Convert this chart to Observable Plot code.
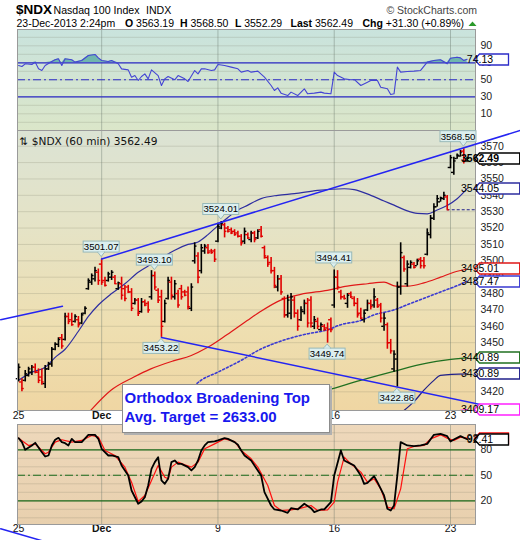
<!DOCTYPE html>
<html>
<head>
<meta charset="utf-8">
<script src="https://cdn.jsdelivr.net/npm/d3@7"></script>
<script src="https://cdn.jsdelivr.net/npm/@observablehq/plot@0.6"></script>
<style>
html,body{margin:0;padding:0;background:#fff;}
#chart{position:relative;width:520px;height:540px;overflow:hidden;font-family:"Liberation Sans",Arial,sans-serif;color:#111;}
.bg{position:absolute;left:17px;width:458px;}
#note{position:absolute;left:121.5px;top:383.5px;width:204px;height:44px;background:#fff;border:1px solid #8c8c8c;box-shadow:2px 2px 0 #b0b0b0;font:bold 15px "Liberation Sans",Arial,sans-serif;color:#1818ee;line-height:19px;padding:3px 0 0 2px;box-sizing:content-box;white-space:nowrap;}
</style>
</head>
<body>
<div id="chart"></div>
<script>
// ================= DATA =================
const dayTickIndex = [0, 25, 60, 95, 130];
const dayTickLabel = ["25", "Dec", "9", "16", "23"];
const weekGridIndex = [25, 60, 95, 130];

// 60-minute OHLC bars, 25-Nov-2013 .. 23-Dec-2013 2:24pm
const barOpen = [
3428,3426,3427,3430,3432,3435,3432,3429,3425,3434,
3437,3446,3449,3453,3452,3466,3464,3463,3464,3462,
3468,3483,3487,3489,3493,3498,3488,3488,3490,3490,
3483,3486,3483,3484,3481,3474,3476,3469,3475,3474,
3478,3491,3482,3478,3463,3477,3487,3478,3480,3483,
3481,3481,3471,3500,3503,3494,3506,3508,3506,3506,
3512,3520,3522,3520,3519,3518,3517,3515,3512,3516,
3513,3517,3514,3519,3508,3502,3499,3494,3484,3489,
3477,3467,3468,3476,3468,3464,3469,3474,3476,3460,
3463,3458,3460,3459,3464,3473,3490,3481,3478,3474,
3480,3477,3474,3468,3464,3470,3474,3473,3476,3473,
3460,3461,3450,3434,3440,3484,3502,3486,3496,3498,
3497,3501,3500,3504,3516,3526,3533,3536,3538,3539,
3557,3554,3562.5,3564,3567,3561];
const barHigh = [
3437,3428,3433,3435,3436,3437,3434,3434,3436,3438,
3447,3450,3453,3455,3468,3468,3468,3467,3466,3468,
3472,3489,3492,3496,3495,3501.07,3490,3493,3494,3491,
3487,3490,3485,3485,3483,3477,3477,3477,3476,3475,
3494,3493.10,3483,3482,3476,3490,3490,3488,3482,3485,
3482,3484,3486,3511,3505,3510,3510,3510,3507,3507,
3523,3524.01,3523,3521,3520,3519,3518,3516,3520,3517,
3518,3518,3519,3521,3509,3503,3502,3496,3491,3491,
3478,3479,3480,3478,3470,3472,3476,3477,3478,3466,
3465,3462,3461,3462,3465,3494.41,3494,3482,3479,3480,
3481,3478,3477,3471,3470,3476,3476,3483,3477,3474,
3468,3462,3452,3445,3487,3511,3503,3500,3500,3499,
3501,3502,3502,3519.5,3527.7,3534.8,3539.9,3538.9,3541.9,3539.9,
3564.3,3563.3,3565.3,3567.4,3568.50,3563.3];
const barLow = [
3426,3420,3426,3429,3430,3431,3425,3424,3422,3433,
3435,3445,3447,3446,3451,3461,3460,3462,3459,3461,
3467,3482,3485,3487,3485,3485,3484,3487,3488,3485.5,
3482,3476,3475,3480,3469,3473,3466,3468,3472,3468,
3476,3482,3474,3453.22,3462,3476,3476,3476,3471,3476,
3478,3470,3469,3498,3486,3492,3504,3504,3504,3499,
3511,3519,3514,3517,3516,3515,3514,3509,3510,3513,
3511,3511,3513,3514,3501,3496,3492,3483,3481,3479,
3465,3465,3464,3465,3457,3463,3467,3459,3459,3458,
3458,3457,3457,3449.74,3456,3471,3482,3476,3476,3471,
3477,3472,3465,3464,3462,3469,3470,3471,3471,3462,
3457,3446,3443,3432,3422.86,3479,3493,3484,3495,3495,
3497,3495,3495,3503,3513.4,3524.6,3532.8,3535.8,3536.8,3531.19,
3556.2,3552.29,3562,3563.3,3559.2,3560.2];
const barClose = [
3435,3422,3431,3434,3435,3432,3427,3426,3434,3437,
3446,3449,3452,3448,3466,3463,3461,3466,3461,3467,
3471,3488,3491,3494,3488,3487,3485,3492,3493,3486,
3486.5,3479,3477,3481,3471,3476,3468,3475,3473,3470,
3491,3484,3476,3460,3474,3488,3479,3486,3473,3478,
3479,3472,3484,3509,3490,3508,3509,3505,3505,3501,
3521,3523,3518,3518,3517,3516,3515,3511,3518,3514,
3517,3513,3518,3515,3503,3498,3494,3485,3489,3481,
3467,3476,3478,3468,3460,3470,3474,3462,3462,3464,
3460,3461,3458,3458,3458,3490,3484,3478,3477,3479,
3478,3474,3467,3465,3468,3474,3472,3478,3472,3465,
3465,3450,3445,3443,3484,3505,3495,3498,3499,3496,
3500,3497,3497,3517,3526,3533,3538,3538.5,3540,3531.19,
3563,3561,3564.5,3566.5,3561,3562.49];

const prevCloseIndex = 129;
const prevClose = 3531.19;

// overlays (index, value)
const ma1Idx = [0,4,8,11,14,18,21,24,28,32,36,40,44,47,51,54,57,60,63,66,69,73,78,83,90,98,101,106,110,113,117,120,123,126,129,132,135];
const ma1Val = [3427,3432,3435,3441,3446,3457,3466,3473,3480,3486,3493,3498,3503,3506.5,3510,3511.5,3516,3521.5,3526.5,3531,3534,3538,3540,3541,3543,3544,3543.5,3540,3536.5,3534,3530.5,3529,3528.7,3531,3533.8,3537.9,3544.05];
const ma2Idx = [21.7,27.7,34.7,39.8,46.8,51.8,56.8,62.8,68.8,72.8,78.9,84.9,92.9,98.9,105,110,113.5,117,122,127,131,135];
const ma2Val = [3408.6,3420.8,3429,3434,3439,3442,3447,3455,3463.5,3469,3476,3479.5,3482,3484.5,3486,3487,3484.5,3484.5,3486.5,3490,3493,3495.01];
const ma3Idx = [44,50,54.8,60,66.8,72.8,76.9,82.9,86.9,92.9,97,102.9,107,112.9,118,122.9,127,131,135];
const ma3Val = [3408.6,3418,3426.9,3432,3439,3446,3449.5,3453.4,3455.4,3457.8,3461,3463.5,3467,3470,3474,3477.8,3481,3484,3487.47];
const ma4Idx = [70,80,92.9,102.9,112.9,122.9,129,135];
const ma4Val = [3408.6,3414.5,3421,3427,3432.5,3437.5,3439.5,3440.89];
const ma5Idx = [116,119,122,125,127,135];
const ma5Val = [3408.6,3414,3421,3427,3430,3430.89];
const ma6Idx = [133,135];
const ma6Val = [3408.6,3409.17];

// drawn trendlines
const upperTrendIdx = [25, 151];
const upperTrendVal = [3501.07, 3579.6];
const lowerTrendIdx = [43, 151];
const lowerTrendVal = [3453.22, 3407.04];
const leftSegIdx = [-5.39, 13.2];
const leftSegVal = [3464, 3472.3];
const stochSegIdx = [-5.39, 7.5];
const stochSegVal = [-12.9, -27.5];

// price annotations
const calloutIdx = [25, 41, 61, 95, 134, 43, 93, 114];
const calloutVal = [3501.07, 3493.10, 3524.01, 3494.41, 3568.50, 3453.22, 3449.74, 3422.86];
const calloutSide = ["above","above","above","above","above","below","below","below"];

const priceTicks = [3420,3430,3440,3450,3460,3470,3480,3490,3500,3510,3520,3530,3540,3550,3560,3570];
const priceTagVal = [3562.49, 3544.05, 3495.01, 3487.47, 3440.89, 3430.89, 3409.17];
const priceTagSeries = ["price","ma1","ma2","ma3","ma4","ma5","ma6"];

// RSI(14)
const rsiIdx = [0,1,2,4,5,6,7,8,10,11,12,13,14,16,17,19,21,23,24,25,27,28,30,31,33,34,35,36,37,38,39,40,42,43,44,45,47,48,50,51,53,54,55,56,58,59,60,62,64,66,67,69,70,72,74,76,77,78,79,81,82,84,86,87,89,91,92,94,95,96,98,100,101,103,105,106,108,109,111,112,113,114,115,117,119,121,123,125,127,129,130,132,133,134,135];
const rsiVal = [66.8,65.7,68.8,68,70.8,62.9,61,66.8,71.5,73.5,74.7,66.8,74.7,73.5,70.8,72.7,78.6,79.8,75.8,72.7,71.5,72.7,68.8,62.9,61.7,53.1,55,49.2,53.9,57,51.1,61.7,55,43.3,51.1,53.9,50,55,51.1,48,60.9,57,62.9,62.9,61,61.7,68,66.8,64.9,62.9,59,61,59,60.2,53.1,43.3,37.4,40.5,34.3,31.5,35.5,31.5,39.4,33.5,34.3,35.5,34.3,33.5,59,55,51.1,50,50.4,43.3,47.2,49.2,49.2,41.3,39.4,32.7,33.5,64.9,59,59.8,60.2,61,70.8,72.7,73.5,68.8,75.4,76.6,75.8,72.7,74.13];
const rsiLabels = [90, 70, 50, 30, 10];
const rsiGrid = [0,10,20,30,40,50,60,70,80,90,100];
const rsiBands = [70, 30];
const rsiMid = [50];

// Slow stochastics
const kIdx = [0,1,2,4,5,7,8,9,10,11,12,13,14,15,16,17,19,21,23,24,25,27,28,30,31,33,34,36,37,38,39,40,41,42,43,44,45,46,47,48,49,51,52,53,54,55,56,57,59,60,62,63,65,66,67,68,70,71,73,74,76,77,79,81,82,84,86,88,89,91,92,94,95,97,98,100,101,103,104,105,107,108,110,111,112,113,114,115,117,119,121,123,125,127,129,130,131,133,135];
const kVal = [93.7,89,80,85,88.2,77.2,72.1,73.3,85,91.8,94.1,89,87.8,85.1,92.9,89,89,97.6,97.6,92.9,81.2,73.3,73.3,71.3,61.5,49.8,32.1,16.5,19.2,24.3,38,57.6,65.5,71.3,43.9,40,45.9,65.5,67.4,63.5,63.5,59.6,55.7,59.6,67.4,79.2,85.1,89,89.8,91,93.7,92.9,89,85.9,79.2,73.3,67.4,61.5,49.8,30.2,14.5,9.8,8.6,5.9,11.3,9.8,16.5,11.3,6.7,9.8,9.8,18.4,49.8,79.2,67.4,63.5,61.5,49.8,40,41.2,49,41.9,26.3,10.6,8.6,14.5,49.8,89,85.1,84.3,85.1,87,97.6,98.8,96.1,89.8,92.1,96.1,92.41];
const dIdx = [0,3,5,8,9,11,13,16,19,22,24,26,29,32,34,36,38,40,42,44,45,46,48,50,52,54,56,59,62,65,67,70,72,75,77,79,82,85,88,90,93,95,96,98,100,103,105,107,109,111,113,115,117,119,122,124,127,129,131,133,135];
const dVal = [93.7,85,87,75.3,77.2,89,91.8,89,91,96.8,94.9,79.2,73.3,59.6,41.9,19.2,26.3,43.9,61.5,47.8,45.9,59.6,65.5,62.3,59.6,65.5,81.2,87,92.9,89.8,79.2,69.4,59.6,38,14.5,8.6,9.4,11.3,14.5,8.6,9.4,18.4,41.9,71.3,63.5,53.7,41.9,45.9,34.1,12.5,10.6,34.1,81.2,83.9,85.1,92.9,97.6,93.7,91,94.9,93.7];
const stoLabels = [80, 50, 20];
const stoGrid = [0,10,20,30,40,50,60,70,80,90,100];
const stoBands = [80, 20];
const stoMid = [50];

// header text
const headSymbol = "$NDX";
const headName = "Nasdaq 100 Index";
const headExch = "INDX";
const headStamp = "23-Dec-2013 2:24pm";
const headOpen = "3563.19", headHigh = "3568.50", headLow = "3552.29", headLast = "3562.49", headChg = "+31.30 (+0.89%)";
const noteLines = ["Orthodox Broadening Top", "Avg. Target = 2633.00"];

// ================= STYLE / LAYOUT =================
const FONT = "'Liberation Sans', Arial, sans-serif";
const X_DOMAIN = [-0.33, 137.52];
const C = {
  price: "#000", up: "#000", down: "#e00000",
  ma1: "#2e2ea0", ma2: "#e01818", ma3: "#3a3ad2", ma4: "#207020", ma5: "#20208a", ma6: "#ff20ff",
  trend: "#2424f2", rsi: "#4444d4", rsiBand: "#2c2cc8", rsiFill: "#6fb6ae",
  stoBand: "#1b6b1b", k: "#000", d: "#ff1010",
  hgrid: "rgba(110,110,90,0.20)", vgrid: "rgba(95,110,100,0.38)", frame: "#9a9a9a"
};
const chart = document.getElementById("chart");

function bg(top, h, css) {
  const d = document.createElement("div");
  d.className = "bg"; d.style.top = top + "px"; d.style.height = h + "px"; d.style.background = css;
  chart.appendChild(d);
}
function place(node, top) {
  const d = document.createElement("div");
  d.style.cssText = `position:absolute;left:0;top:${top}px;`;
  d.appendChild(node); chart.appendChild(d);
}
const pts = (xs, ys) => xs.map((i, k) => ({i, v: ys[k]}));

function tagsMark(rows) {
  return (index, scales, values, dims) => {
    const g = d3.create("svg:g");
    const x0 = dims.width - dims.marginRight - 0.5;
    for (const r of rows) {
      const y = Math.round(scales.y(r.value)) + 0.5;
      const w = r.text.length * 5.6 + 6;
      g.append("path").attr("d", `M${x0},${y}L${x0 + 5},${y - 5.5}H${x0 + w}V${y + 5.5}H${x0 + 5}Z`)
        .attr("fill", "#fff").attr("stroke", r.color).attr("stroke-width", 1.3);
      g.append("text").attr("x", x0 + 5.5).attr("y", y).attr("dy", "0.36em")
        .attr("font-size", 10.5).attr("font-family", FONT)
        .attr("font-weight", r.bold ? "bold" : "normal").attr("fill", "#000").text(r.text);
    }
    return g.node();
  };
}
function calloutsMark(rows) {
  return (index, scales, values, dims) => {
    const g = d3.create("svg:g");
    const right = dims.width - dims.marginRight;
    for (const r of rows) {
      const cx = scales.x(r.i), vy = scales.y(r.value);
      const w = 36, h = 11;
      let bx = cx - w / 2;
      if (bx + w > right + 1) bx = right + 1 - w;
      const above = r.side === "above";
      const by = above ? vy - 6.5 - h : vy + 5.5;
      const baseY = above ? by + h : by;
      const tipY = above ? vy - 2 : vy + 1.5;
      g.append("rect").attr("x", bx).attr("y", by).attr("width", w).attr("height", h)
        .attr("fill", "#dcefef").attr("stroke", "#98b9b9");
      g.append("path").attr("d", `M${cx - 3.5},${baseY}L${cx},${tipY}L${cx + 3.5},${baseY}Z`)
        .attr("fill", "#dcefef").attr("stroke", "#98b9b9");
      g.append("line").attr("x1", cx - 2.8).attr("x2", cx + 2.8).attr("y1", baseY).attr("y2", baseY)
        .attr("stroke", "#dcefef").attr("stroke-width", 1.2);
      g.append("text").attr("x", bx + w / 2).attr("y", by + h / 2).attr("dy", "0.36em")
        .attr("text-anchor", "middle").attr("font-size", 9.6).attr("font-family", FONT)
        .attr("fill", "#000").text(r.value.toFixed(2));
    }
    return g.node();
  };
}
const baseStyle = {background: "transparent", overflow: "visible", fontFamily: FONT, fontSize: "10.5px", color: "#222"};
const xTicks = dayTickIndex.map((i, k) => ({i, label: dayTickLabel[k], month: isNaN(+dayTickLabel[k])}));
function xLabelMarks(dy) {
  return [
    Plot.text(xTicks, {filter: d => !d.month, x: "i", text: "label", frameAnchor: "bottom", dy, fontSize: 10.5, fill: "#111"}),
    Plot.text(xTicks, {filter: d => d.month, x: "i", text: "label", frameAnchor: "bottom", dy, fontSize: 10.5, fontWeight: "bold", fill: "#111"})
  ];
}

// ================= HEADER =================
{
  const svg = d3.create("svg").attr("width", 520).attr("height", 30).style("display", "block")
    .attr("font-family", FONT);
  svg.append("text").attr("x", 16).attr("y", 14).attr("font-size", 13.5).attr("font-weight", "bold").text(headSymbol);
  svg.append("text").attr("x", 53.5).attr("y", 14).attr("font-size", 10.6).text(headName);
  svg.append("text").attr("x", 146).attr("y", 14).attr("font-size", 10.6).text(headExch);
  svg.append("text").attr("x", 477).attr("y", 14).attr("font-size", 10.5).attr("text-anchor", "end").attr("fill", "#444").text("\u00A9 StockCharts.com");
  const line2 = [[16.5, null, headStamp], [125, "O", headOpen], [180, "H", headHigh], [235, "L", headLow], [290.5, "Last", headLast], [362.5, "Chg", headChg]];
  for (const [x, b, v] of line2) {
    const t = svg.append("text").attr("x", x).attr("y", 26.5).attr("font-size", 10.5);
    if (b) t.append("tspan").attr("font-weight", "bold").text(b + " ");
    t.append("tspan").text(v);
  }
  svg.append("path").attr("d", "M468.5,26 L472.5,21.5 L476.5,26 Z").attr("fill", "#2a9a2a");
  place(svg.node(), 0);
}

// ================= RSI PANEL =================
bg(29, 101, "linear-gradient(#c9e3dd, #dbe6c9)");
{
  const rsi = pts(rsiIdx, rsiVal);
  const p = Plot.plot({
    width: 520, height: 101, marginLeft: 17, marginRight: 45, marginTop: 0, marginBottom: 0,
    x: {domain: X_DOMAIN, axis: null},
    y: {domain: [-9.65, 109.18], axis: null},
    style: baseStyle,
    marks: [
      Plot.ruleY(rsiGrid, {stroke: C.hgrid}),
      Plot.ruleX(weekGridIndex, {stroke: C.vgrid}),
      Plot.areaY(rsi, {x: "i", y1: 70, y2: d => Math.max(d.v, 70), fill: C.rsiFill}),
      Plot.ruleY(rsiBands, {stroke: C.rsiBand, strokeWidth: 1.2}),
      Plot.ruleY(rsiMid, {stroke: C.rsiBand, strokeWidth: 1.1, strokeDasharray: "8,3,2,3"}),
      Plot.line(rsi, {x: "i", y: "v", stroke: C.rsi, strokeWidth: 1.1}),
      Plot.text(rsiLabels, {y: d => d, text: d => String(d), frameAnchor: "right", dx: 5, textAnchor: "start", fontSize: 10.5, fill: "#222"}),
      Plot.frame({stroke: C.frame}),
      tagsMark([{value: rsiVal[rsiVal.length - 1], text: rsiVal[rsiVal.length - 1].toFixed(2), color: C.rsiBand}])
    ]
  });
  place(p, 29);
}

// ================= MAIN PRICE PANEL =================
bg(130, 280, "linear-gradient(#dbe3d4 0%, #e5e3c6 35%, #eedfb1 70%, #efd6a3 100%)");
{
  const bars = barHigh.map((h, i) => ({i, h, l: barLow[i], o: barOpen[i], c: barClose[i]}));
  const up = d => d.c >= d.o;
  const last = bars[bars.length - 1];
  const callouts = calloutIdx.map((i, k) => ({i, value: calloutVal[k], side: calloutSide[k]}));
  const tags = priceTagVal.map((v, k) => ({value: v, text: v.toFixed(2), color: C[priceTagSeries[k]], bold: priceTagSeries[k] === "price"})).reverse();
  const barMarks = [];
  for (const [f, col] of [[up, C.up], [d => !up(d), C.down]]) {
    barMarks.push(
      Plot.ruleX(bars, {filter: f, x: "i", y1: "l", y2: "h", stroke: col, strokeWidth: 1.6}),
      Plot.ruleY(bars, {filter: f, x1: d => d.i - 0.7, x2: "i", y: "o", stroke: col, strokeWidth: 1.4}),
      Plot.ruleY(bars, {filter: f, x1: "i", x2: d => d.i + 0.7, y: "c", stroke: col, strokeWidth: 1.4})
    );
  }
  const p = Plot.plot({
    width: 520, height: 296, marginLeft: 17, marginRight: 45, marginTop: 0, marginBottom: 16,
    x: {domain: X_DOMAIN, axis: null},
    y: {domain: [3408.58, 3579.59], axis: null},
    style: baseStyle,
    marks: [
      Plot.ruleY(priceTicks, {stroke: C.hgrid}),
      Plot.ruleX(weekGridIndex, {stroke: C.vgrid}),
      Plot.rect([last], {x1: d => d.i - 0.8, x2: d => d.i + 1.0, y1: "l", y2: "h", fill: "#bff0b4"}),
      Plot.line(pts(ma4Idx, ma4Val), {x: "i", y: "v", stroke: C.ma4, strokeWidth: 1.2, curve: "monotone-x"}),
      Plot.line(pts(ma5Idx, ma5Val), {x: "i", y: "v", stroke: C.ma5, strokeWidth: 1.2, curve: "monotone-x"}),
      Plot.line(pts(ma6Idx, ma6Val), {x: "i", y: "v", stroke: C.ma6, strokeWidth: 1.2}),
      Plot.line(pts(ma3Idx, ma3Val), {x: "i", y: "v", stroke: C.ma3, strokeWidth: 1.6, strokeDasharray: "2,2.2", curve: "monotone-x"}),
      Plot.line(pts(ma2Idx, ma2Val), {x: "i", y: "v", stroke: C.ma2, strokeWidth: 1.2, curve: "monotone-x"}),
      Plot.line(pts(ma1Idx, ma1Val), {x: "i", y: "v", stroke: C.ma1, strokeWidth: 1.2, curve: "monotone-x"}),
      Plot.ruleY([prevClose], {y: d => d, x1: prevCloseIndex, x2: X_DOMAIN[1], stroke: C.ma5, strokeWidth: 1.2, strokeDasharray: "3,2"}),
      ...barMarks,
      Plot.text(priceTicks, {y: d => d, text: d => String(d), frameAnchor: "right", dx: 5, textAnchor: "start", fontSize: 10.5, fill: "#222"}),
      Plot.text([`\u21C5 $NDX (60 min) ${last.c.toFixed(2)}`], {frameAnchor: "top-left", dx: 2, dy: 7, text: d => d, textAnchor: "start", fontFamily: "DejaVu Sans", fontSize: 10.6, fill: "#111"}),
      ...xLabelMarks(8.5),
      Plot.frame({stroke: C.frame}),
      Plot.line(pts(upperTrendIdx, upperTrendVal), {x: "i", y: "v", stroke: C.trend, strokeWidth: 1.5}),
      Plot.line(pts(lowerTrendIdx, lowerTrendVal), {x: "i", y: "v", stroke: C.trend, strokeWidth: 1.5}),
      Plot.line(pts(leftSegIdx, leftSegVal), {x: "i", y: "v", stroke: C.trend, strokeWidth: 1.5}),
      calloutsMark(callouts),
      tagsMark(tags)
    ]
  });
  place(p, 130);
}

// ================= STOCHASTICS PANEL =================
bg(424, 100, "linear-gradient(#eed8bb, #e8d0ae)");
{
  const p = Plot.plot({
    width: 520, height: 115, marginLeft: 17, marginRight: 45, marginTop: 0, marginBottom: 15,
    x: {domain: X_DOMAIN, axis: null},
    y: {domain: [-7.88, 109.76], axis: null},
    style: baseStyle,
    marks: [
      Plot.ruleY(stoGrid, {stroke: C.hgrid}),
      Plot.ruleX(weekGridIndex, {stroke: C.vgrid}),
      Plot.ruleY(stoBands, {stroke: C.stoBand, strokeWidth: 1.2}),
      Plot.ruleY(stoMid, {stroke: C.stoBand, strokeWidth: 1.1, strokeDasharray: "8,3,2,3"}),
      Plot.line(pts(dIdx, dVal), {x: "i", y: "v", stroke: C.d, strokeWidth: 1.2}),
      Plot.line(pts(kIdx, kVal), {x: "i", y: "v", stroke: C.k, strokeWidth: 1.8}),
      Plot.text(stoLabels, {y: d => d, text: d => String(d), frameAnchor: "right", dx: 5, textAnchor: "start", fontSize: 10.5, fill: "#222"}),
      ...xLabelMarks(7),
      Plot.frame({stroke: C.frame}),
      Plot.line(pts(stochSegIdx, stochSegVal), {x: "i", y: "v", stroke: C.trend, strokeWidth: 1.5}),
      tagsMark([
        {value: dVal[dVal.length - 1], text: dVal[dVal.length - 1].toFixed(2), color: C.d},
        {value: kVal[kVal.length - 1], text: kVal[kVal.length - 1].toFixed(2), color: C.k}
      ])
    ]
  });
  place(p, 424);
}

// ================= NOTE BOX =================
{
  const n = document.createElement("div");
  n.id = "note";
  n.innerHTML = noteLines.map(s => `<div>${s}</div>`).join("");
  chart.appendChild(n);
}
</script>
</body>
</html>
